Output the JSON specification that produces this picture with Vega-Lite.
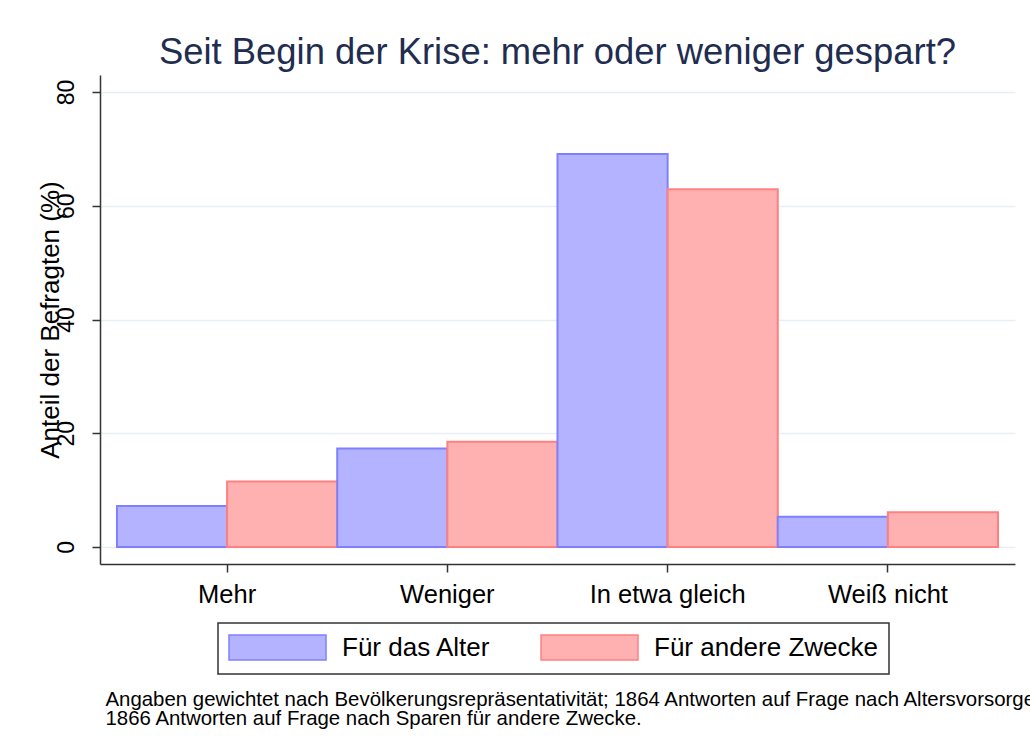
{
  "$schema": "https://vega.github.io/schema/vega-lite/v6.json",
  "width": 915,
  "height": 489,
  "autosize": {"type": "none"},
  "padding": {"left": 100, "top": 75, "right": 15, "bottom": 191},
  "background": "white",
  "title": {
    "text": "Seit Begin der Krise: mehr oder weniger gespart?",
    "fontSize": 36.4,
    "font": "Liberation Sans",
    "fontWeight": "normal",
    "color": "#1f2d50",
    "anchor": "middle",
    "offset": 4
  },
  "config": {
    "view": {"stroke": null},
    "legend": {"strokeWidth": 1.5}
  },
  "data": {
    "values": [
      {"Antwort": "Mehr", "Zweck": "Für das Alter", "Anteil": 7.2},
      {"Antwort": "Mehr", "Zweck": "Für andere Zwecke", "Anteil": 11.5},
      {"Antwort": "Weniger", "Zweck": "Für das Alter", "Anteil": 17.3},
      {"Antwort": "Weniger", "Zweck": "Für andere Zwecke", "Anteil": 18.5},
      {"Antwort": "In etwa gleich", "Zweck": "Für das Alter", "Anteil": 69.1},
      {"Antwort": "In etwa gleich", "Zweck": "Für andere Zwecke", "Anteil": 62.9},
      {"Antwort": "Weiß nicht", "Zweck": "Für das Alter", "Anteil": 5.3},
      {"Antwort": "Weiß nicht", "Zweck": "Für andere Zwecke", "Anteil": 6.1}
    ]
  },
  "mark": {"type": "bar", "strokeWidth": 2},
  "encoding": {
    "x": {
      "field": "Antwort",
      "type": "nominal",
      "sort": ["Mehr", "Weniger", "In etwa gleich", "Weiß nicht"],
      "scale": {"paddingInner": 0, "paddingOuter": 0.077},
      "axis": {
        "title": [
          "Angaben gewichtet nach Bevölkerungsrepräsentativität; 1864 Antworten auf Frage nach Altersvorsorge,",
          "1866 Antworten auf Frage nach Sparen für andere Zwecke."
        ],
        "titleFontSize": 20.4,
        "titleFont": "Liberation Sans",
        "titleFontWeight": "normal",
        "titleColor": "black",
        "titleX": 5,
        "titleY": 125,
        "titleAlign": "left",
        "titleBaseline": "top",
        "titleLineHeight": 19,
        "labelFontSize": 25.5,
        "labelFont": "Liberation Sans",
        "labelAngle": 0,
        "labelColor": "black",
        "labelPadding": 10,
        "tickSize": 8,
        "tickColor": "#333333",
        "tickWidth": 1.5,
        "domainColor": "#333333",
        "domainWidth": 1.5,
        "grid": false
      }
    },
    "xOffset": {
      "field": "Zweck",
      "type": "nominal",
      "sort": ["Für das Alter", "Für andere Zwecke"],
      "scale": {"paddingInner": 0, "paddingOuter": 0}
    },
    "y": {
      "field": "Anteil",
      "type": "quantitative",
      "scale": {"domain": [-3, 83], "nice": false, "zero": false},
      "axis": {
        "title": "Anteil der Befragten (%)",
        "values": [0, 20, 40, 60, 80],
        "titleFontSize": 26,
        "titleFont": "Liberation Sans",
        "titleFontWeight": "normal",
        "titleColor": "black",
        "titleAngle": 270,
        "titleX": -50,
        "titleY": 244.5,
        "titleAlign": "center",
        "titleBaseline": "middle",
        "labelFontSize": 23,
        "labelFont": "Liberation Sans",
        "labelColor": "black",
        "labelAngle": 270,
        "labelAlign": "center",
        "labelBaseline": "middle",
        "labelPadding": 26,
        "tickSize": 8,
        "tickColor": "#333333",
        "tickWidth": 1.5,
        "domainColor": "#333333",
        "domainWidth": 1.5,
        "grid": true,
        "gridColor": "#e6eff1",
        "gridWidth": 1.5
      }
    },
    "y2": {"datum": 0},
    "fill": {
      "field": "Zweck",
      "type": "nominal",
      "scale": {"domain": ["Für das Alter", "Für andere Zwecke"], "range": ["#b3b3ff", "#ffb0b0"]},
      "legend": {
        "title": null,
        "orient": "none",
        "legendX": 118,
        "legendY": 548,
        "direction": "horizontal",
        "columns": 2,
        "symbolType": "M-3.88,-1H3.88V1H-3.88Z",
        "symbolSize": 625,
        "symbolStrokeWidth": 1.5,
        "symbolOffset": 35,
        "symbolOpacity": 1,
        "labelOffset": 51,
        "labelFontSize": 26,
        "labelFont": "Liberation Sans",
        "labelColor": "black",
        "labelLimit": 400,
        "columnPadding": 47,
        "padding": 11,
        "strokeColor": "#333333",
        "fillColor": "white"
      }
    },
    "stroke": {
      "field": "Zweck",
      "type": "nominal",
      "scale": {"domain": ["Für das Alter", "Für andere Zwecke"], "range": ["#8080ff", "#ff8080"]},
      "legend": {
        "title": null,
        "orient": "none",
        "legendX": 118,
        "legendY": 548,
        "direction": "horizontal",
        "columns": 2,
        "symbolType": "M-3.88,-1H3.88V1H-3.88Z",
        "symbolSize": 625,
        "symbolStrokeWidth": 1.5,
        "symbolOffset": 35,
        "symbolOpacity": 1,
        "labelOffset": 51,
        "labelFontSize": 26,
        "labelFont": "Liberation Sans",
        "labelColor": "black",
        "labelLimit": 400,
        "columnPadding": 47,
        "padding": 11,
        "strokeColor": "#333333",
        "fillColor": "white"
      }
    }
  }
}
